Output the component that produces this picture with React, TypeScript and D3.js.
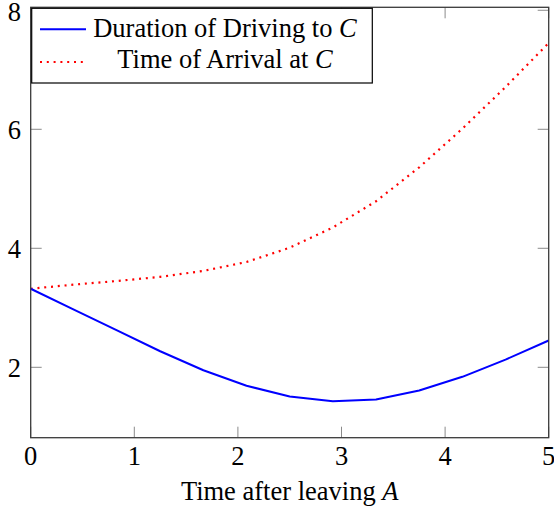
import React from "react";
import * as d3 from "d3";

// samples taken every 5/12 of an hour
const hours = [0, 0.4167, 0.8333, 1.25, 1.6667, 2.0833, 2.5, 2.9167, 3.3333, 3.75, 4.1667, 4.5833, 5];
const driveDuration = [3.32, 2.97, 2.62, 2.27, 1.95, 1.69, 1.51, 1.43, 1.46, 1.61, 1.84, 2.13, 2.45];
const arrivalTime = [3.32, 3.39, 3.45, 3.52, 3.62, 3.77, 4.01, 4.35, 4.79, 5.36, 6.01, 6.71, 7.45];

const xTicks = [0, 1, 2, 3, 4, 5];
const yTicks = [2, 4, 6, 8];

const W = 554;
const H = 508;
const plot = { left: 30.7, right: 548.7, top: 7.3, bottom: 437.7 };
const font = "Liberation Serif, DejaVu Serif, serif";
const fs = 26.5;

export default function App() {
  const x = d3.scaleLinear().domain([0, 5]).range([plot.left, plot.right]);
  const y = d3.scaleLinear().domain([0.817, 8.05]).range([plot.bottom, plot.top]);

  const line = d3
    .line<number>()
    .x((_, i) => x(hours[i]))
    .y((d) => y(d));

  const tickLen = 11;
  const textStyle = { fontFamily: font, fontSize: fs };

  return (
    <div style={{ position: "absolute", left: 0, top: 0 }}>
      <svg width={W} height={H} viewBox={`0 0 ${W} ${H}`} style={{ display: "block" }}>
        <rect width={W} height={H} fill="#fff" />

        {/* ticks, inward on all four sides */}
        <g stroke="#8a8a8a" strokeWidth={1}>
          {xTicks.map((t) => (
            <g key={"xt" + t}>
              <line x1={x(t)} x2={x(t)} y1={plot.bottom} y2={plot.bottom - tickLen} />
              <line x1={x(t)} x2={x(t)} y1={plot.top} y2={plot.top + tickLen} />
            </g>
          ))}
          {yTicks.map((t) => (
            <g key={"yt" + t}>
              <line x1={plot.left} x2={plot.left + tickLen} y1={y(t)} y2={y(t)} />
              <line x1={plot.right} x2={plot.right - tickLen} y1={y(t)} y2={y(t)} />
            </g>
          ))}
        </g>

        <path d={line(arrivalTime) || ""} fill="none" stroke="#ff0000" strokeWidth={2.2} strokeDasharray="2 4.8" />
        <path d={line(driveDuration) || ""} fill="none" stroke="#0000ff" strokeWidth={2} strokeLinejoin="round" />

        <rect
          x={plot.left}
          y={plot.top}
          width={plot.right - plot.left}
          height={plot.bottom - plot.top}
          fill="none"
          stroke="#3a3a3a"
          strokeWidth={1.3}
        />

        {/* tick labels */}
        <g style={textStyle} fill="#000">
          {xTicks.map((t) => (
            <text key={"xl" + t} x={x(t)} y={465} textAnchor="middle">
              {t}
            </text>
          ))}
          {yTicks.map((t) => (
            <text key={"yl" + t} x={21} y={Math.max(y(t) + 9.4, 20.7)} textAnchor="end">
              {t}
            </text>
          ))}
          <text x={(plot.left + plot.right) / 2} y={500} textAnchor="middle">
            Time after leaving <tspan fontStyle="italic">A</tspan>
          </text>
        </g>

        {/* legend */}
        <g>
          <rect x={31.7} y={8.3} width={340.6} height={74.7} fill="#fff" stroke="#000" strokeWidth={1.2} />
          <line x1={40} x2={86} y1={29.3} y2={29.3} stroke="#0000ff" strokeWidth={2} />
          <line x1={40} x2={86} y1={62} y2={62} stroke="#ff0000" strokeWidth={2.2} strokeDasharray="2 4.8" />
          <g style={textStyle} fill="#000" textAnchor="middle">
            <text x={225} y={37.3}>
              Duration of Driving to <tspan fontStyle="italic">C</tspan>
            </text>
            <text x={225} y={68.3}>
              Time of Arrival at <tspan fontStyle="italic">C</tspan>
            </text>
          </g>
        </g>
      </svg>
    </div>
  );
}
